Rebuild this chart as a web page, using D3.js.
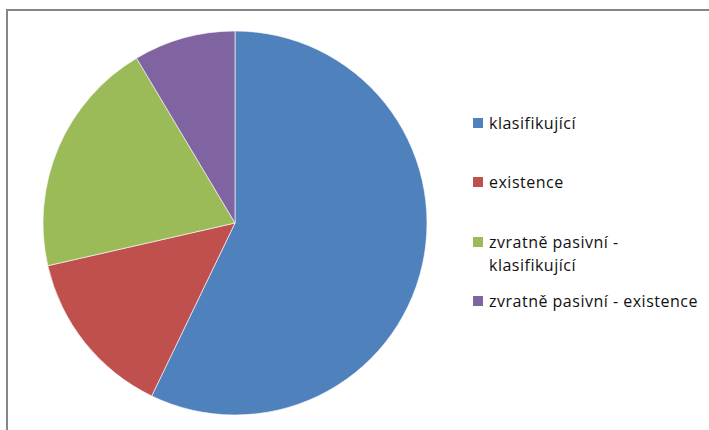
<!DOCTYPE html>
<html>
<head>
<meta charset="utf-8">
<script src="https://cdn.jsdelivr.net/npm/d3@7"></script>
<style>
body { margin: 0; background: #fff; }
</style>
</head>
<body>
<svg id="chart" width="709" height="430"></svg>
<script>
var categories = ["klasifikující", "existence", "zvratně pasivní - klasifikující", "zvratně pasivní - existence"];
var values = [40, 10, 14, 6];
var legendLines = [["klasifikující"], ["existence"], ["zvratně pasivní -", "klasifikující"], ["zvratně pasivní - existence"]];
var colors = ["#4F81BD", "#C0504D", "#9BBB59", "#8064A2"];

var svg = d3.select("#chart");

// chart area border (right/bottom edges fall outside the window)
svg.append("rect")
	.attr("x", 7).attr("y", 10)
	.attr("width", 720).attr("height", 440)
	.attr("fill", "#fff")
	.attr("stroke", "#868686")
	.attr("stroke-width", 2);

var data = categories.map(function(c, i) { return {name: c, value: values[i], color: colors[i]}; });

var pie = d3.pie().sort(null).value(function(d) { return d.value; });
var arc = d3.arc().innerRadius(0).outerRadius(192);

var g = svg.append("g").attr("transform", "translate(235,223)");

g.selectAll("path")
	.data(pie(data))
	.enter().append("path")
	.attr("d", arc)
	.attr("fill", function(d) { return d.data.color; })
	.attr("stroke", "#fff")
	.attr("stroke-width", 0.6);

var legendY = [123, 182, 242, 301];
var legend = svg.append("g")
	.attr("font-family", "'Open Sans', sans-serif")
	.attr("font-size", "16px")
	.attr("letter-spacing", "0.5px")
	.attr("fill", "#111")
	.style("font-variant-ligatures", "none");

data.forEach(function(d, i) {
	var row = legend.append("g").attr("transform", "translate(473," + legendY[i] + ")");
	row.append("rect")
		.attr("x", 0).attr("y", -5)
		.attr("width", 10).attr("height", 10)
		.attr("fill", d.color);
	legendLines[i].forEach(function(line, j) {
		row.append("text")
			.attr("x", 16)
			.attr("y", j * 23)
			.attr("dy", "0.35em")
			.text(line);
	});
});
</script>
</body>
</html>
